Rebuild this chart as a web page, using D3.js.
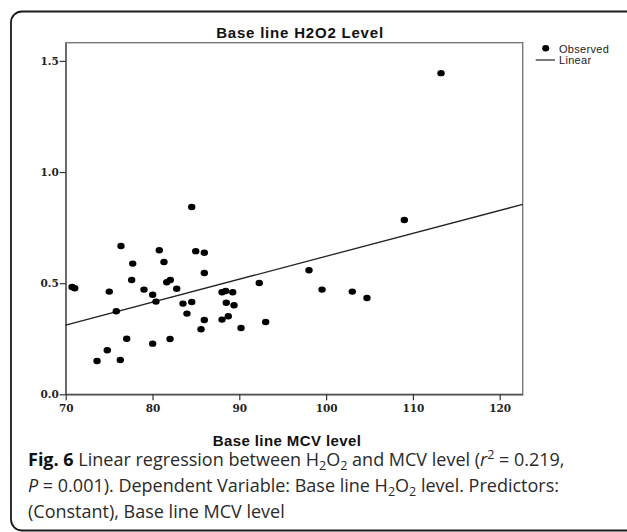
<!DOCTYPE html>
<html>
<head>
<meta charset="utf-8">
<script src="https://cdn.jsdelivr.net/npm/d3@7"></script>
<style>
  html, body { margin: 0; padding: 0; background: #fff; }
  svg { display: block; }
</style>
</head>
<body>
<svg id="chart" width="627" height="532"></svg>
<script>
// Baseline MCV level (x) and baseline H2O2 level (y) for each subject
const mcv = [70.73, 71.04, 75.02, 75.83, 74.79, 73.61, 76.29, 77.03, 76.37, 77.72,
             77.60, 79.02, 80.02, 80.40, 80.02, 80.78, 81.32, 81.64, 82.05, 82.79,
             82.02, 84.52, 84.98, 85.97, 85.97, 83.51, 84.52, 83.97, 85.97, 85.59,
             88.01, 88.43, 89.24, 88.50, 89.39, 88.01, 88.73, 90.20, 92.30, 93.04,
             98.03, 99.53, 103.02, 104.71, 109.01, 113.24];
const h2o2 = [0.483, 0.477, 0.462, 0.374, 0.198, 0.150, 0.154, 0.250, 0.667, 0.588,
              0.514, 0.471, 0.448, 0.417, 0.228, 0.648, 0.595, 0.504, 0.514, 0.475,
              0.249, 0.843, 0.644, 0.637, 0.546, 0.408, 0.415, 0.363, 0.334, 0.293,
              0.459, 0.465, 0.459, 0.412, 0.401, 0.336, 0.351, 0.298, 0.501, 0.325,
              0.558, 0.471, 0.462, 0.433, 0.784, 1.445];

// Fitted linear model: H2O2 = intercept + slope * MCV
const fitIntercept = -0.410;
const fitSlope = 0.01031;

const xTicks = [70, 80, 90, 100, 110, 120];
const yTicks = [0.0, 0.5, 1.0, 1.5];
const xDomain = [70, 122.65];
const yDomain = [0, 1.582];

const svg = d3.select("#chart");

// Outer rounded panel border
svg.append("rect")
  .attr("x", 11).attr("y", 11.5)
  .attr("width", 660).attr("height", 519)
  .attr("rx", 11).attr("ry", 11)
  .attr("fill", "none").attr("stroke", "#1a1a1a").attr("stroke-width", 1.8);

const plot = { left: 65.7, top: 42.7, right: 522.7, bottom: 394.3 };

const x = d3.scaleLinear().domain(xDomain).range([plot.left, plot.right]);
const y = d3.scaleLinear().domain(yDomain).range([plot.bottom, plot.top]);

// Plot frame
svg.append("rect")
  .attr("x", plot.left).attr("y", plot.top)
  .attr("width", plot.right - plot.left).attr("height", plot.bottom - plot.top)
  .attr("fill", "none").attr("stroke", "#7a7a7a").attr("stroke-width", 1.4);

// Title
svg.append("text")
  .attr("x", 300).attr("y", 38.3)
  .attr("text-anchor", "middle")
  .attr("font-family", "'Liberation Sans', Arial, sans-serif")
  .attr("font-weight", "bold").attr("font-size", 15)
  .attr("letter-spacing", 0.8)
  .attr("fill", "#111")
  .text("Base line H2O2 Level");

// Axes
const tickFont = "'DejaVu Serif', serif";

const yAxis = svg.append("g")
  .attr("transform", `translate(${plot.left},0)`)
  .call(d3.axisLeft(y).tickValues(yTicks).tickFormat(d3.format(".1f"))
        .tickSize(6).tickSizeOuter(0).tickPadding(1));
yAxis.select(".domain").attr("stroke", "#555").attr("stroke-width", 1.2);
yAxis.selectAll(".tick line").attr("stroke", "#333").attr("stroke-width", 1.2);
yAxis.selectAll(".tick text")
  .attr("font-family", tickFont).attr("font-weight", "bold")
  .attr("font-size", 10.5).attr("fill", "#222");

const xAxis = svg.append("g")
  .attr("transform", `translate(0,${plot.bottom})`)
  .call(d3.axisBottom(x).tickValues(xTicks).tickFormat(d3.format("d"))
        .tickSize(6).tickSizeOuter(0).tickPadding(4));
xAxis.select(".domain").attr("stroke", "#444").attr("stroke-width", 1.2);
xAxis.selectAll(".tick line").attr("stroke", "#333").attr("stroke-width", 1.2);
xAxis.selectAll(".tick text")
  .attr("font-family", tickFont).attr("font-weight", "bold")
  .attr("font-size", 10.5).attr("fill", "#222");

// X axis title
svg.append("text")
  .attr("x", 287).attr("y", 446)
  .attr("text-anchor", "middle")
  .attr("font-family", "'Liberation Sans', Arial, sans-serif")
  .attr("font-weight", "bold").attr("font-size", 15)
  .attr("letter-spacing", 0.4)
  .attr("fill", "#111")
  .text("Base line MCV level");

// Regression line across the x domain
const fitLine = xDomain.map(v => [v, fitIntercept + fitSlope * v]);
svg.append("path")
  .datum(fitLine)
  .attr("d", d3.line().x(d => x(d[0])).y(d => y(d[1])))
  .attr("fill", "none").attr("stroke", "#222").attr("stroke-width", 1.3);

// Observed points
const points = mcv.map((v, i) => ({ x: v, y: h2o2[i] }));
svg.append("g").selectAll("ellipse")
  .data(points)
  .join("ellipse")
  .attr("cx", d => x(d.x)).attr("cy", d => y(d.y))
  .attr("rx", 3.7).attr("ry", 3.2)
  .attr("fill", "#000");

// Legend
const legend = svg.append("g")
  .attr("font-family", "'Liberation Sans', Arial, sans-serif")
  .attr("font-size", 11).attr("fill", "#222");
legend.append("ellipse")
  .attr("cx", 545.7).attr("cy", 48.3).attr("rx", 3.5).attr("ry", 3.2).attr("fill", "#000");
legend.append("text").attr("x", 559).attr("y", 53).attr("letter-spacing", 0.3).text("Observed");
legend.append("line")
  .attr("x1", 535.7).attr("x2", 555).attr("y1", 60).attr("y2", 60)
  .attr("stroke", "#222").attr("stroke-width", 1.2);
legend.append("text").attr("x", 559).attr("y", 64.3).attr("letter-spacing", 0.3).text("Linear");

// Figure caption
const cap = svg.append("g")
  .attr("font-family", "'Open Sans', 'Noto Sans', sans-serif")
  .attr("font-size", 18).attr("fill", "#2a2a2a");

const subSize = 12.5;

const l1 = cap.append("text").attr("x", 28).attr("y", 466);
l1.append("tspan").attr("font-weight", "bold").attr("fill", "#111").text("Fig. 6");
l1.append("tspan").text(" Linear regression between H");
l1.append("tspan").attr("font-size", subSize).attr("dy", 4).text("2");
l1.append("tspan").attr("dy", -4).text("O");
l1.append("tspan").attr("font-size", subSize).attr("dy", 4).text("2");
l1.append("tspan").attr("dy", -4).text(" and MCV level (");
l1.append("tspan").attr("font-style", "italic").text("r");
l1.append("tspan").attr("font-size", subSize).attr("dy", -7).text("2");
l1.append("tspan").attr("dy", 7).text(" = 0.219,");

const l2 = cap.append("text").attr("x", 28).attr("y", 492);
l2.append("tspan").attr("font-style", "italic").text("P");
l2.append("tspan").text(" = 0.001). Dependent Variable: Base line H");
l2.append("tspan").attr("font-size", subSize).attr("dy", 4).text("2");
l2.append("tspan").attr("dy", -4).text("O");
l2.append("tspan").attr("font-size", subSize).attr("dy", 4).text("2");
l2.append("tspan").attr("dy", -4).text(" level. Predictors:");

cap.append("text").attr("x", 28).attr("y", 517.5).text("(Constant), Base line MCV level");
</script>
</body>
</html>
